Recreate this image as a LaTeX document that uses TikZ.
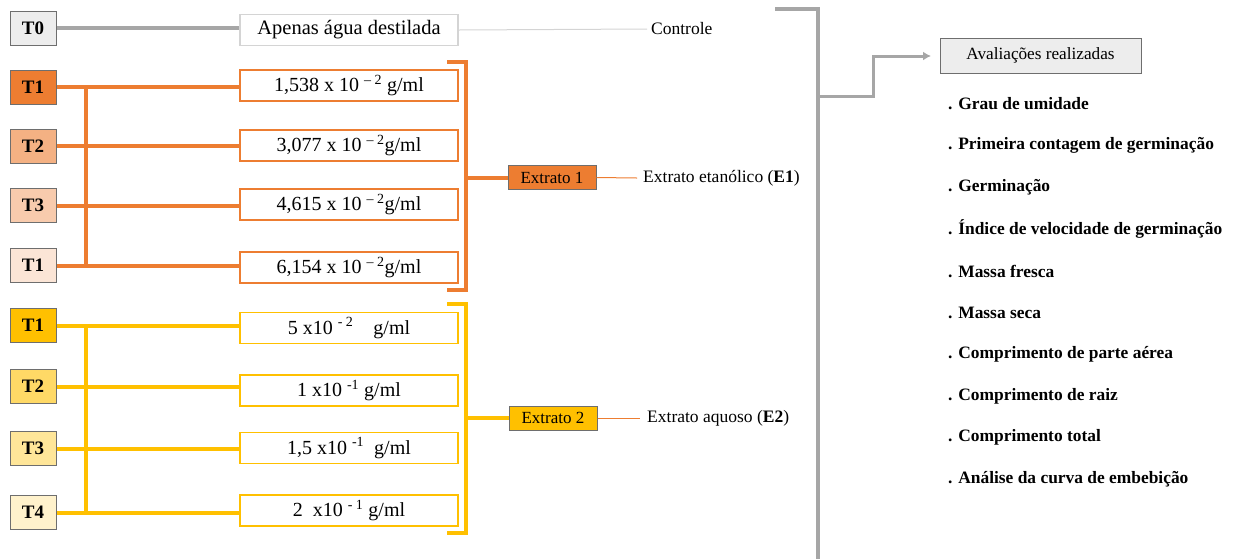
\documentclass[tikz,border=0pt]{standalone}
\usepackage{fontspec}
\setmainfont{Liberation Serif}
\usetikzlibrary{arrows.meta}
\definecolor{ora}{HTML}{ED7D31}
\definecolor{orb}{HTML}{F4B183}
\definecolor{orc}{HTML}{F8CBAD}
\definecolor{ord}{HTML}{FBE5D6}
\definecolor{yea}{HTML}{FFC000}
\definecolor{yeb}{HTML}{FFD966}
\definecolor{yec}{HTML}{FFE699}
\definecolor{yed}{HTML}{FFF2CC}
\definecolor{gline}{HTML}{A6A6A6}
\definecolor{gfill}{HTML}{EDEDED}
\definecolor{tborder}{HTML}{6E6E6E}
\definecolor{lgray}{HTML}{D4D4D4}
\begin{document}
\begin{tikzpicture}[x=1pt,y=-1pt,
  tbox/.style={draw=tborder, line width=1pt, minimum width=46pt, minimum height=34pt, inner sep=0pt, font=\fontsize{19}{22}\selectfont\bfseries},
  cbox/.style={fill=white, line width=1.6pt, minimum width=218pt, minimum height=31pt, inner sep=0pt, font=\fontsize{20}{23}\selectfont},
  xbox/.style={draw=tborder, line width=1pt, minimum width=88pt, minimum height=24pt, inner sep=0pt, font=\fontsize{17}{20}\selectfont},
  lbl/.style={anchor=west, inner sep=0pt, font=\fontsize{17.5}{20}\selectfont},
  item/.style={anchor=west, inner sep=0pt, font=\fontsize{17.4}{20}\selectfont\bfseries},
  bus/.style={line width=4pt},
  thin/.style={line width=1pt}
]
\useasboundingbox (0,0) rectangle (1235,558);

% bus x coordinate
\coordinate (bx) at (86,0);

% Control
\node[tbox, fill=gfill] (t0) at (33,28) {T0};
\node[cbox, draw=lgray, font=\fontsize{20.5}{23}\selectfont] (c0) at (349,30) {Apenas água destilada};
\draw[bus, gline] (t0.east) -- (t0.east -| c0.west);
\node[lbl] (l0) at (651,29) {Controle};
\draw[thin, lgray] (c0.east) -- (l0.west -| 647,0);

% Orange group
\node[tbox, fill=ora] (e1a) at (33,87) {T1};
\node[tbox, fill=orb] (e1b) at (33,146) {T2};
\node[tbox, fill=orc] (e1c) at (33,205.5) {T3};
\node[tbox, fill=ord] (e1d) at (33,265.5) {T1};
\node[cbox, draw=ora] (c1) at (349,85.5) {1,538 x 10 \textsuperscript{– 2} g/ml};
\node[cbox, draw=ora] (c2) at (349,145.5) {3,077 x 10 \textsuperscript{– 2}g/ml};
\node[cbox, draw=ora] (c3) at (349,204.5) {4,615 x 10 \textsuperscript{– 2}g/ml};
\node[cbox, draw=ora] (c4) at (349,267.5) {6,154 x 10 \textsuperscript{– 2}g/ml};
\foreach \t/\c in {e1a/c1,e1b/c2,e1c/c3,e1d/c4}
  \draw[bus, ora] (\t.east) -- (\t.east -| \c.west);
\draw[bus, ora] (e1a.east -| bx) -- (e1d.east -| bx);

\coordinate (ob1) at (447,62);
\coordinate (ob2) at (466,62);
\coordinate (ob3) at (466,290);
\coordinate (ob4) at (447,290);
\draw[bus, ora, line join=miter] (ob1) -- (ob2) -- (ob3) -- (ob4);
\node[xbox, fill=ora] (x1) at (552,177.5) {Extrato 1};
\draw[bus, ora] (x1.west -| ob2) -- (x1.west);
\node[lbl] (l1) at (643,178) {Extrato etanólico (\textbf{E1})};
\draw[thin, ora] (x1.east) -- (l1.west -| 637,0);

% Yellow group
\node[tbox, fill=yea] (e2a) at (33,325.5) {T1};
\node[tbox, fill=yeb] (e2b) at (33,386.5) {T2};
\node[tbox, fill=yec] (e2c) at (33,448.5) {T3};
\node[tbox, fill=yed] (e2d) at (33,512.5) {T4};
\node[cbox, draw=yea] (d1) at (349,328) {5 x10 \textsuperscript{- 2}\quad g/ml};
\node[cbox, draw=yea] (d2) at (349,390.5) {1 x10 \textsuperscript{-1} g/ml};
\node[cbox, draw=yea] (d3) at (349,448) {1,5 x10 \textsuperscript{-1}\ \ g/ml};
\node[cbox, draw=yea] (d4) at (349,510.5) {2\ \ x10 \textsuperscript{- 1} g/ml};
\foreach \t/\c in {e2a/d1,e2b/d2,e2c/d3,e2d/d4}
  \draw[bus, yea] (\t.east) -- (\t.east -| \c.west);
\draw[bus, yea] (e2a.east -| bx) -- (e2d.east -| bx);

\coordinate (yb1) at (447,304);
\coordinate (yb2) at (466,304);
\coordinate (yb3) at (466,533);
\coordinate (yb4) at (447,533);
\draw[bus, yea, line join=miter] (yb1) -- (yb2) -- (yb3) -- (yb4);
\node[xbox, fill=yea] (x2) at (553,418) {Extrato 2};
\draw[bus, yea] (x2.west -| yb2) -- (x2.west);
\node[lbl] (l2) at (647,418) {Extrato aquoso (\textbf{E2})};
\draw[thin, ora] (x2.east) -- (l2.west -| 640,0);

% Evaluations
\coordinate (g1) at (775,9);
\coordinate (g2) at (818,9);
\coordinate (g3) at (818,560);
\draw[bus, gline, line join=miter] (g1) -- (g2) -- (g3);
\node[draw=tborder, fill=gfill, line width=1pt, minimum width=201pt, minimum height=35pt, inner sep=0pt, font=\fontsize{17.2}{20}\selectfont] (av) at (1040.5,55.5) {Avaliações realizadas};
\coordinate (ga) at (818,96);
\coordinate (gb) at (873,96);
\coordinate (gc) at (873,56);
\coordinate (gd) at (931,56);
\draw[gline, line width=3pt, line join=miter, -{Latex[length=8pt,width=9pt]}] (ga) -- (gb) -- (gc) -- (gd);

\node[item] (i1) at (948,103.5) {. Grau de umidade};
\node[item] (i2) at (948,145.5) {. Primeira contagem de germinação};
\node[item] (i3) at (948,187) {. Germinação};
\node[item] (i4) at (948,229) {. Índice de velocidade de germinação};
\node[item] (i5) at (948,271) {. Massa fresca};
\node[item] (i6) at (948,312.5) {. Massa seca};
\node[item] (i7) at (948,354.5) {. Comprimento de parte aérea};
\node[item] (i8) at (948,396) {. Comprimento de raiz};
\node[item] (i9) at (948,437.5) {. Comprimento total};
\node[item] (i10) at (948,479) {. Análise da curva de embebição};
\end{tikzpicture}
\end{document}
